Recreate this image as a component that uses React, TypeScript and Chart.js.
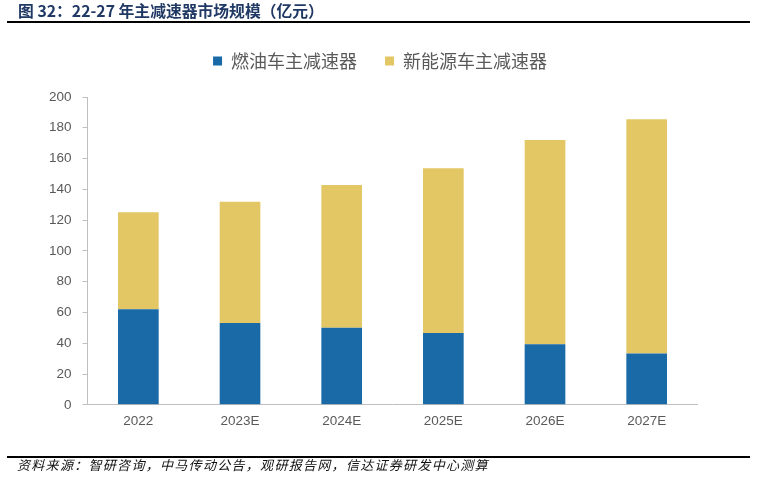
import React, { useEffect, useRef } from "react";
import { Chart, registerables } from "chart.js";

Chart.register(...registerables);

const categories = ["2022", "2023E", "2024E", "2025E", "2026E", "2027E"];
const fuelValues = [62.1, 53.2, 50.0, 46.6, 39.4, 33.3];
const nevValues = [63.0, 78.8, 92.9, 107.1, 132.7, 152.2];
const seriesNames = ["燃油车主减速器", "新能源车主减速器"];
const yTicks = [0, 20, 40, 60, 80, 100, 120, 140, 160, 180, 200];
const titleText = "图 32：22-27 年主减速器市场规模（亿元）";
const sourceText = "资料来源：智研咨询，中马传动公告，观研报告网，信达证券研发中心测算";

const legendMargin = {
  id: "legendMargin",
  afterInit(chart: any) {
    const lg = chart.legend;
    if (!lg) return;
    const fit = lg.fit;
    lg.fit = function () {
      fit.call(lg);
      lg.height += 17;
    };
  },
  afterLayout(chart: any) {
    const lg = chart.legend;
    if (!lg) return;
    lg.left += 12.3;
    lg.right += 12.3;
  },
};

export default function App() {
  const ref = useRef<HTMLCanvasElement | null>(null);
  useEffect(() => {
    if (!ref.current) return;
    const chart = new Chart(ref.current, {
      type: "bar",
      data: {
        labels: categories,
        datasets: [
          {
            label: seriesNames[0],
            data: fuelValues,
            backgroundColor: "#1a6aa7",
            borderWidth: 0,
            categoryPercentage: 1,
            barPercentage: 0.4,
          },
          {
            label: seriesNames[1],
            data: nevValues,
            backgroundColor: "#e3c764",
            borderWidth: 0,
            categoryPercentage: 1,
            barPercentage: 0.4,
          },
        ],
      },
      options: {
        animation: false,
        responsive: false,
        maintainAspectRatio: false,
        layout: { padding: { left: 38, right: 62.5, top: 24, bottom: 43 } },
        plugins: {
          legend: {
            display: true,
            position: "top",
            labels: {
              boxWidth: 9,
              boxHeight: 9,
              padding: 28,
              color: "#595959",
              font: { family: "'Noto Sans CJK SC'", size: 18 },
            },
          },
          tooltip: { enabled: false },
        },
        scales: {
          x: {
            stacked: true,
            grid: { display: false, drawTicks: false },
            border: { display: true, color: "#bfbfbf", width: 1 },
            ticks: {
              padding: 8,
              color: "#595959",
              font: { family: "'Liberation Sans'", size: 13.5 },
            },
          },
          y: {
            stacked: true,
            min: 0,
            max: 200,
            afterBuildTicks: (axis: any) => {
              axis.ticks = yTicks.map((v) => ({ value: v }));
            },
            grid: {
              display: true,
              drawOnChartArea: false,
              drawTicks: true,
              tickLength: 5,
              color: "#bfbfbf",
            },
            border: { display: true, color: "#bfbfbf", width: 1 },
            ticks: {
              padding: 11,
              color: "#595959",
              font: { family: "'Liberation Sans'", size: 13.5 },
            },
          },
        },
      },
      plugins: [legendMargin],
    });
    return () => chart.destroy();
  }, []);

  return (
    <div style={{ position: "absolute", left: 0, top: 0, width: 760, height: 480, background: "#fff" }}>
      <canvas ref={ref} width={760} height={480} style={{ position: "absolute", left: 0, top: 0, width: 760, height: 480 }} />
      <div
        style={{
          position: "absolute",
          left: 18,
          top: 2,
          lineHeight: "18px",
          fontSize: 15.8,
          fontWeight: "bold",
          color: "#1f3864",
          fontFamily: "'Noto Sans CJK SC'",
          whiteSpace: "nowrap",
        }}
      >
        {titleText}
      </div>
      <div style={{ position: "absolute", left: 7, top: 21, width: 743, height: 2, background: "#000" }} />
      <div style={{ position: "absolute", left: 7, top: 456, width: 743, height: 1.5, background: "#000" }} />
      <div
        style={{
          position: "absolute",
          left: 17,
          top: 457,
          lineHeight: "16px",
          fontSize: 13,
          fontStyle: "italic",
          letterSpacing: "1.3px",
          color: "#111",
          fontFamily: "'Noto Sans CJK SC'",
          whiteSpace: "nowrap",
        }}
      >
        {sourceText}
      </div>
    </div>
  );
}
